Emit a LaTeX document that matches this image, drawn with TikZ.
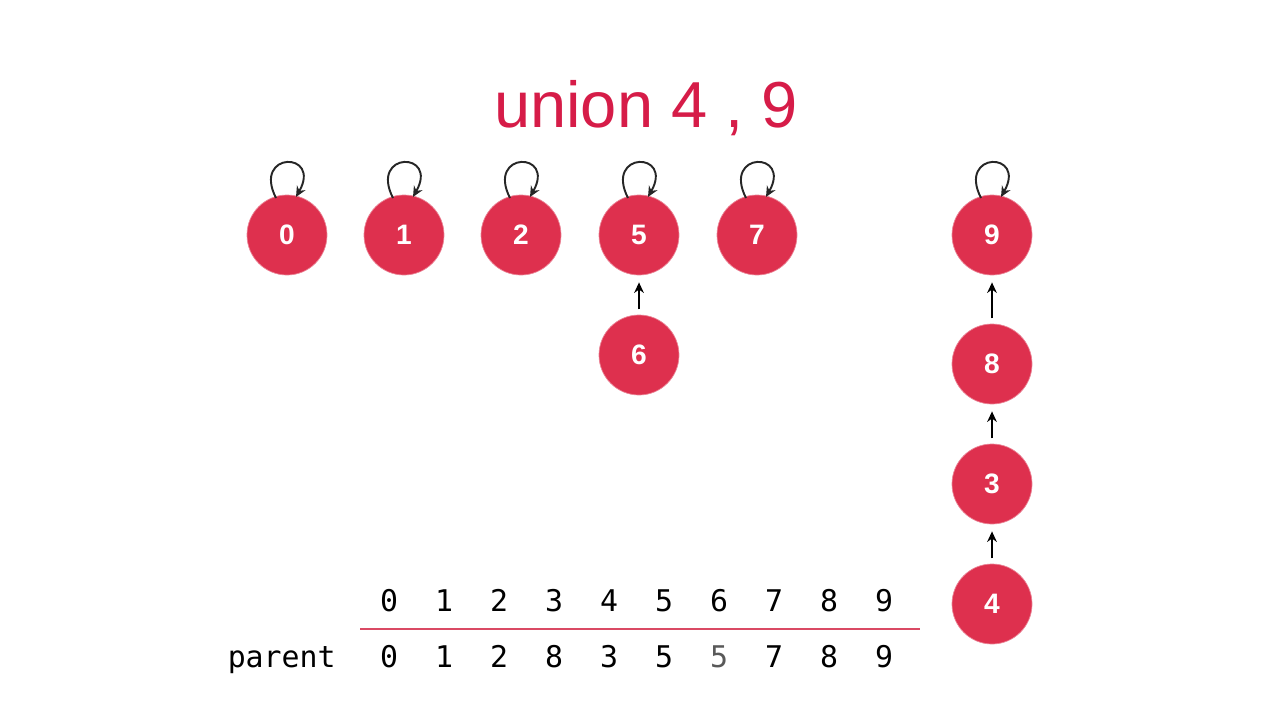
\documentclass[tikz,border=0pt]{standalone}
\usepackage{fontspec}
\setmainfont{Liberation Sans}
\newfontfamily\monofont{DejaVu Sans Mono}
\usetikzlibrary{arrows.meta,calc}
\definecolor{nodered}{RGB}{222,48,78}
\definecolor{titlered}{RGB}{214,28,72}
\definecolor{linered}{RGB}{218,74,100}
\tikzset{
  elem/.style={circle,fill=nodered,draw=nodered!60!white,line width=0.4pt,minimum size=80*0.02cm,inner sep=0pt,text=white,font=\fontsize{16}{16}\selectfont\bfseries},
  arr/.style={-{Stealth[length=6pt,width=5.5pt]},line width=1.1pt,black,shorten >=4pt,shorten <=3pt},
  looparr/.style={-{Stealth[length=6pt,width=5.5pt]},line width=1.1pt,black!85},
  cell/.style={anchor=base,inner sep=0pt,font=\monofont\fontsize{17}{17}\selectfont},
}
\newcommand{\selfloop}[1]{\draw[looparr] ($(#1)+(-11,-37)$) .. controls ($(#1)+(-35,-84)$) and ($(#1)+(35,-84)$) .. ($(#1)+(9,-38)$);}
\begin{document}
\begin{tikzpicture}[x=0.02cm,y=-0.02cm]
\useasboundingbox[fill=white] (0,0) rectangle (1280,720);
\node[anchor=base,text=titlered,font=\fontsize{37}{37}\selectfont,inner sep=0pt] (title) at (646,127) {union 4 , 9};
\node[elem] (n0) at (287,235) {0};
\node[elem] (n1) at (404,235) {1};
\node[elem] (n2) at (521,235) {2};
\node[elem] (n5) at (639,235) {5};
\node[elem] (n7) at (757,235) {7};
\node[elem] (n9) at (992,235) {9};
\node[elem] (n6) at (639,355) {6};
\node[elem] (n8) at (992,364) {8};
\node[elem] (n3) at (992,484) {3};
\node[elem] (n4) at (992,604) {4};
\selfloop{n0}\selfloop{n1}\selfloop{n2}\selfloop{n5}\selfloop{n7}\selfloop{n9}
\draw[arr] (n6) -- (n5);
\draw[arr] (n8) -- (n9);
\draw[arr] (n3) -- (n8);
\draw[arr] (n4) -- (n3);
\foreach \i in {0,...,9}{
  \node[cell] (h\i) at (389+55*\i,611) {\i};
}
\foreach \i/\p in {0/0,1/1,2/2,3/8,4/3,5/5,7/7,8/8,9/9}{
  \node[cell] (p\i) at (389+55*\i,667) {\p};
}
\node[cell,text=black!65] (p6) at (389+55*6,667) {5};
\node[cell,anchor=base east] (plabel) at (336,667) {parent};
\coordinate (la) at (360,629);
\coordinate (lb) at (920,629);
\draw[linered,line width=1.2pt] (la) -- (lb);
\end{tikzpicture}
\end{document}
